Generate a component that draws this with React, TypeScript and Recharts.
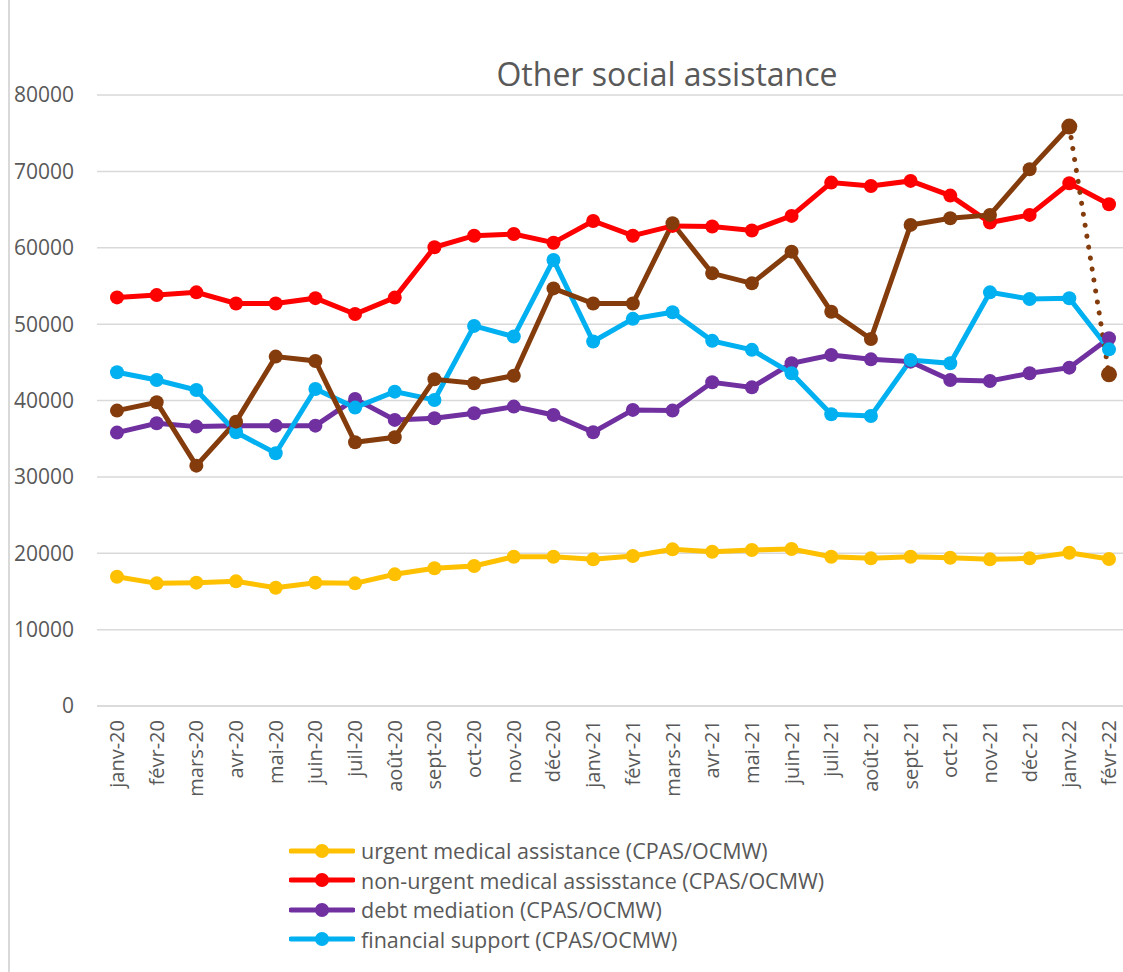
import { LineChart, Line, XAxis, YAxis, CartesianGrid, Legend } from "recharts";

const months = [
  "janv-20", "févr-20", "mars-20", "avr-20", "mai-20", "juin-20", "juil-20", "août-20",
  "sept-20", "oct-20", "nov-20", "déc-20", "janv-21", "févr-21", "mars-21", "avr-21",
  "mai-21", "juin-21", "juil-21", "août-21", "sept-21", "oct-21", "nov-21", "déc-21",
  "janv-22", "févr-22",
];

const urgentMedical = [
  16930, 16060, 16150, 16320, 15490, 16150, 16060, 17240, 18030, 18330, 19550, 19550, 19200,
  19640, 20510, 20200, 20430, 20560, 19550, 19330, 19550, 19420, 19200, 19330, 20070, 19250,
];

const nonUrgentMedical = [
  53500, 53800, 54160, 52700, 52700, 53400, 51330, 53470, 60060, 61580, 61800, 60660, 63500,
  61580, 62860, 62780, 62260, 64170, 68530, 68090, 68750, 66830, 63300, 64300, 68440, 65700,
];

const debtMediation = [
  35800, 37020, 36580, 36710, 36710, 36710, 40210, 37460, 37680, 38330, 39200, 38110, 35850,
  38770, 38680, 42380, 41720, 44870, 45960, 45390, 45090, 42690, 42560, 43560, 44300, 48150,
];

const financialSupport = [
  43690, 42690, 41380, 35850, 33090, 41510, 39070, 41160, 40070, 49770, 48370, 58410, 47720,
  50690, 51560, 47810, 46630, 43560, 38190, 37970, 45300, 44870, 54160, 53290, 53380, 46700,
];

// brown series has no legend entry; last month is drawn dotted
const unlabelled = [
  38680, 39770, 31470, 37230, 45750, 45180, 34530, 35180, 42780, 42250, 43250, 54680, 52700,
  52700, 63200, 56650, 55340, 59490, 51630, 48060, 62990, 63860, 64300, 70270, 75870, 43430,
];

const yTicks = [0, 10000, 20000, 30000, 40000, 50000, 60000, 70000, 80000];

const legendItems = [
  { name: "urgent medical assistance (CPAS/OCMW)", color: "#FFC000" },
  { name: "non-urgent medical assisstance (CPAS/OCMW)", color: "#FF0000" },
  { name: "debt mediation (CPAS/OCMW)", color: "#7030A0" },
  { name: "financial support (CPAS/OCMW)", color: "#00B0F0" },
];

const last = months.length - 1;
const data = months.map((month, i) => ({
  month,
  urgent: urgentMedical[i],
  nonUrgent: nonUrgentMedical[i],
  debt: debtMediation[i],
  financial: financialSupport[i],
  brownMain: i < last ? unlabelled[i] : null,
  brownTail: i >= last - 1 ? unlabelled[i] : null,
}));

const textColor = "#595959";
const font = "'Open Sans', sans-serif";

function MonthTick({ x, y, payload }: any) {
  return (
    <g transform={`translate(${x},${y})`}>
      <text
        transform="rotate(-90)"
        textAnchor="end"
        dy="0.35em"
        fill={textColor}
        fontSize={20}
        fontFamily={font}
      >
        {payload.value}
      </text>
    </g>
  );
}

function LegendBox() {
  return (
    <div style={{ fontFamily: font, fontSize: 21.5, color: textColor }}>
      {legendItems.map((item) => (
        <div key={item.name} style={{ display: "flex", alignItems: "center", height: 29.5, whiteSpace: "nowrap" }}>
          <svg width={66} height={16} style={{ marginRight: 6, flexShrink: 0 }}>
            <line x1={2} y1={8} x2={64} y2={8} stroke={item.color} strokeWidth={5} strokeLinecap="round" />
            <circle cx={33} cy={8} r={7} fill={item.color} />
          </svg>
          <span>{item.name}</span>
        </div>
      ))}
    </div>
  );
}

function dotFor(color: string, r = 7) {
  return { r, fill: color, stroke: color, strokeWidth: 0 };
}

export default function App() {
  return (
    <div
      style={{
        position: "absolute",
        left: 0,
        top: 0,
        width: 1123,
        height: 972,
        overflow: "hidden",
        background: "#fff",
        fontFamily: font,
      }}
    >
      <div style={{ position: "absolute", left: 8, top: 0, width: 2, height: 972, background: "#d9d9d9" }} />
      <div
        style={{
          position: "absolute",
          left: 667,
          top: 52,
          transform: "translateX(-50%)",
          fontSize: 32,
          color: textColor,
          whiteSpace: "nowrap",
          lineHeight: "44px",
        }}
      >
        Other social assistance
      </div>
      <LineChart
        width={1130}
        height={972}
        data={data}
        margin={{ top: 95, right: 1, left: 0, bottom: 166 }}
      >
        <CartesianGrid vertical={false} stroke="#d9d9d9" strokeWidth={1.5} />
        <XAxis
          dataKey="month"
          axisLine={{ stroke: "#d9d9d9", strokeWidth: 1.5 }}
          tickLine={false}
          tick={<MonthTick />}
          tickMargin={8}
          interval={0}
          padding={{ left: 20, right: 20 }}
          height={100}
        />
        <YAxis
          domain={[0, 80000]}
          ticks={yTicks}
          width={97}
          axisLine={false}
          tickLine={false}
          tickMargin={17}
          tick={{ fill: textColor, fontSize: 21, fontFamily: font }}
        />
        <Legend
          layout="vertical"
          align="center"
          verticalAlign="middle"
          content={<LegendBox />}
          wrapperStyle={{ top: 836, left: 289, width: 600 }}
        />
        <Line dataKey="urgent" stroke="#FFC000" strokeWidth={5} dot={dotFor("#FFC000")} activeDot={false} isAnimationActive={false} />
        <Line dataKey="nonUrgent" stroke="#FF0000" strokeWidth={5} dot={dotFor("#FF0000")} activeDot={false} isAnimationActive={false} />
        <Line dataKey="debt" stroke="#7030A0" strokeWidth={5} dot={dotFor("#7030A0")} activeDot={false} isAnimationActive={false} />
        <Line dataKey="financial" stroke="#00B0F0" strokeWidth={5} dot={dotFor("#00B0F0")} activeDot={false} isAnimationActive={false} />
        <Line dataKey="brownMain" stroke="#843C0C" strokeWidth={5} dot={dotFor("#843C0C")} activeDot={false} legendType="none" isAnimationActive={false} />
        <Line
          dataKey="brownTail"
          stroke="#843C0C"
          strokeWidth={5}
          strokeDasharray="0.1 11"
          strokeLinecap="round"
          dot={dotFor("#843C0C", 8)}
          activeDot={false}
          legendType="none"
          isAnimationActive={false}
        />
      </LineChart>
    </div>
  );
}
